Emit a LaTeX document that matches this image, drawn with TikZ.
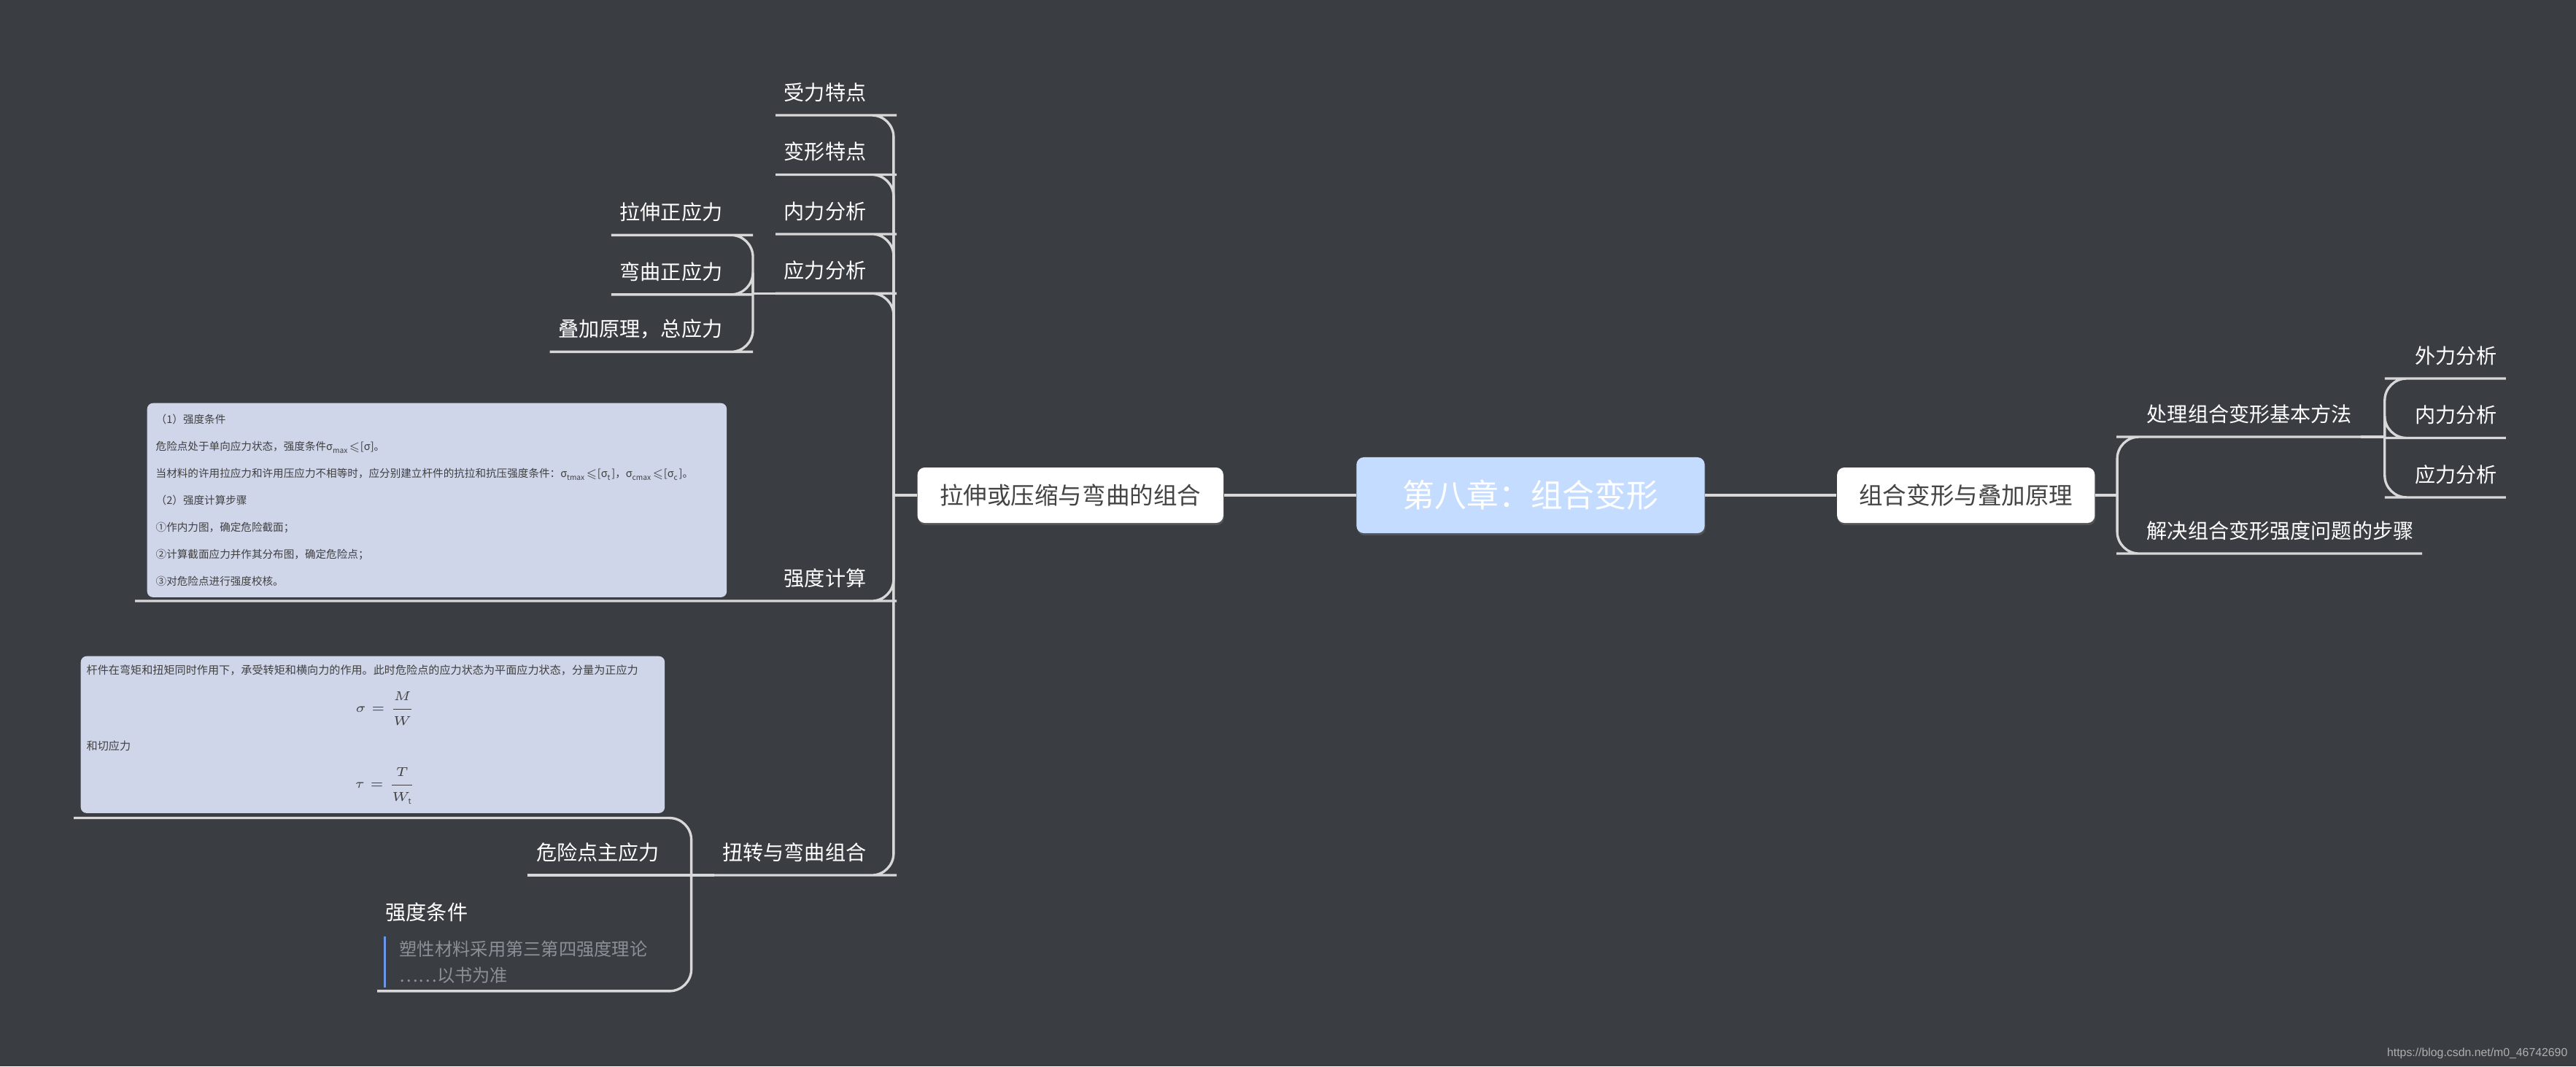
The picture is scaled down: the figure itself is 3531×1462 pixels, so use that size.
\documentclass[tikz,border=0pt]{standalone}
\usepackage{amsmath,amssymb}
\usepackage{fontspec}
\setmainfont{Noto Sans CJK SC}
\newfontfamily\urlfont{Liberation Sans}
\usetikzlibrary{positioning, calc, shadows}

\begin{document}
\begin{tikzpicture}[
    x=0.01cm, y=-0.01cm,
    node distance=0.16cm,
    link/.style={draw=linegray, line width=0.95pt, rounded corners=0.3cm},
    topic/.style={text=white, font=\fontsize{8pt}{9.6pt}\selectfont, inner xsep=0.11cm, inner ysep=0cm, text height=0.44cm, text depth=0.2cm},
    mainbox/.style={fill=white, text=boxtext, rounded corners=0.1cm, minimum height=0.76cm, font=\fontsize{9.25pt}{11pt}\selectfont, drop shadow={shadow xshift=0.01cm, shadow yshift=-0.03cm, opacity=0.35}},
    panel/.style={fill=panelblue, text=paneltext, rounded corners=0.08cm, align=left, anchor=north west},
    notebar/.style={draw=barblue, line width=0.85pt}
]

% Colors
\definecolor{bg}{RGB}{58, 61, 66} % canvas
\definecolor{linegray}{RGB}{216, 216, 216} % branches
\definecolor{rootblue}{RGB}{196, 220, 255} % central topic
\definecolor{boxtext}{RGB}{68, 68, 68}
\definecolor{panelblue}{RGB}{208, 214, 234} % image notes
\definecolor{paneltext}{RGB}{64, 64, 64}
\definecolor{notegray}{RGB}{140, 144, 150}
\definecolor{barblue}{RGB}{108, 150, 232}
\definecolor{urlgray}{RGB}{175, 175, 175}

\fill[bg] (0,0) rectangle (3531,1462);

% Nodes
\node (root) [mainbox, fill=rootblue, text=white, minimum width=4.77cm, minimum height=1.04cm, font=\fontsize{12.5pt}{15pt}\selectfont] at (2098,679) {第八章：组合变形};
\node (combo) [mainbox, minimum width=4.19cm, left=1.81cm of root] {拉伸或压缩与弯曲的组合};
\node (superpose) [mainbox, minimum width=3.53cm, right=1.80cm of root] {组合变形与叠加原理};

\coordinate (jL) at ([xshift=-0.32cm]combo.west);
\coordinate (jR) at ([xshift=0.30cm]superpose.east);

\node (load) [topic, anchor=south east] at (1199,158) {受力特点};
\node (deform) [topic, below=of load] {变形特点};
\node (inner) [topic, below=of deform] {内力分析};
\node (stress) [topic, below=of inner] {应力分析};

\coordinate (jS) at ([xshift=-0.31cm]stress.south west);
\node (tensile) [topic, anchor=south east] at ($(jS)+(-30,-80)$) {拉伸正应力};
\node (bending) [topic, below=of tensile] {弯曲正应力};
\node (total) [topic, anchor=south east] at ($(jS)+(-30,80)$) {叠加原理，总应力};

\node (strength) [topic, anchor=south east] at (1199,824) {强度计算};
\node (strength_note) [panel, text width=7.70cm, inner xsep=0.12cm, minimum height=2.66cm, font=\fontsize{4.15pt}{10.5pt}\selectfont] at (201,552) {%
（1）强度条件\\
危险点处于单向应力状态，强度条件σ\textsubscript{max}$\leqslant$[σ]。\\
当材料的许用拉应力和许用压应力不相等时，应分别建立杆件的抗拉和抗压强度条件：σ\textsubscript{tmax}$\leqslant$[σ\textsubscript{t}]，σ\textsubscript{cmax}$\leqslant$[σ\textsubscript{c}]。\\
（2）强度计算步骤\\
①作内力图，确定危险截面；\\
②计算截面应力并作其分布图，确定危险点；\\
③对危险点进行强度校核。};

\node (torsion) [topic, anchor=south east] at (1199,1200) {扭转与弯曲组合};
\coordinate (jN) at ([xshift=-0.31cm]torsion.south west);
\node (torsion_note) [panel, text width=7.84cm, inner xsep=0.08cm, minimum height=2.15cm, font=\fontsize{4.3pt}{14.8pt}\selectfont] at (110,899) {%
杆件在弯矩和扭矩同时作用下，承受转矩和横向力的作用。此时危险点的应力状态为平面应力状态，分量为正应力\\
\makebox[7.84cm]{\hspace{0.34cm}$\sigma=\dfrac{M}{W}$}\\
和切应力\\
\makebox[7.84cm]{\hspace{0.34cm}$\tau=\dfrac{T}{W_{\mathrm{t}}}$}};
\node (principal) [topic, anchor=south east] at ([xshift=-0.32cm]jN) {危险点主应力};
\node (criterion) [topic, anchor=base west] at (517,1261) {强度条件};
\node (criterion_note) [anchor=north west, text=notegray, align=left, inner xsep=0.2cm, inner ysep=0.05cm, font=\fontsize{6.9pt}{10.2pt}\selectfont] at (527,1284) {塑性材料采用第三第四强度理论\\……以书为准};

\node (method) [topic, anchor=south west] at (2931,599) {处理组合变形基本方法};
\node (steps) [topic, anchor=south west] at (2931,759) {解决组合变形强度问题的步骤};
\coordinate (jM) at ([xshift=0.33cm]method.south east);
\node (ext_r) [topic, anchor=south west] at ($(jM)+(30,-80)$) {外力分析};
\node (inner_r) [topic, below=of ext_r] {内力分析};
\node (stress_r) [topic, below=of inner_r] {应力分析};

\node (url) [anchor=east, inner sep=0pt, text=urlgray, font=\urlfont\fontsize{4.5pt}{5pt}\selectfont] at (3520,1444) {https://blog.csdn.net/m0\_46742690};

% Edges
\draw[link] (root) -- (combo);
\draw[link] (root) -- (superpose);

\draw[link] (combo.west) -- (jL);
\draw[link] (jL) |- (load.south east) -- (load.south west);
\draw[link] (jL) |- (deform.south east) -- (deform.south west);
\draw[link] (jL) |- (inner.south east) -- (inner.south west);
\draw[link] (jL) |- (stress.south east) -- (stress.south west);
\draw[link] (jL) |- (strength.south east) -- ($(strength_note.west |- strength.south)+(-16,0)$);
\draw[link] (jL) |- (torsion.south east) -- (torsion.south west);

\draw[link] (stress.south west) -- (jS);
\draw[link] (jS) |- (tensile.south east) -- (tensile.south west);
\draw[link] (jS) |- (bending.south east) -- (bending.south west);
\draw[link] (jS) |- (total.south east) -- (total.south west);

\draw[link] (torsion.south west) -- (jN);
\draw[link] (jN) |- ($(torsion_note.south west)+(-9,6)$);
\draw[link] (jN) -- (principal.south east) -- (principal.south west);
\draw[link] (jN) |- ($(criterion_note.south west)+(-10,5)$);
\draw[notebar] (criterion_note.north west) -- (criterion_note.south west);

\draw[link] (superpose.east) -- (jR);
\draw[link] (jR) |- (method.south west) -- (method.south east);
\draw[link] (jR) |- (steps.south west) -- (steps.south east);
\draw[link] (method.south east) -- (jM);
\draw[link] (jM) |- (ext_r.south west) -- (ext_r.south east);
\draw[link] (jM) |- (inner_r.south west) -- (inner_r.south east);
\draw[link] (jM) |- (stress_r.south west) -- (stress_r.south east);

\end{tikzpicture}
\end{document}
